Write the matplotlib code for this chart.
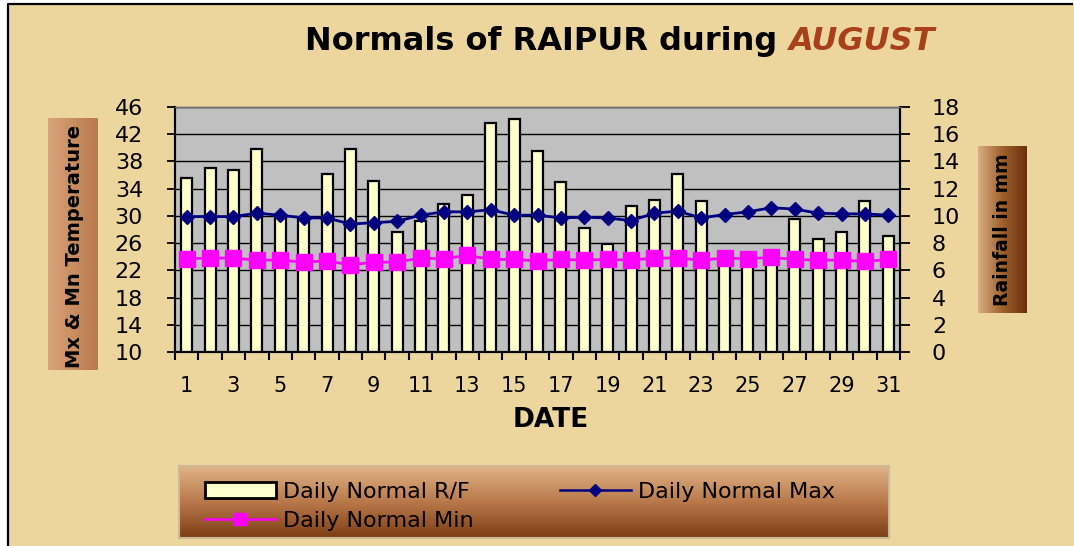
import numpy as np
import matplotlib
matplotlib.use("Agg")
import matplotlib.pyplot as plt
from matplotlib.lines import Line2D
from matplotlib.patches import Rectangle
from matplotlib.colors import LinearSegmentedColormap

# ---- data ---------------------------------------------------------------
dates = list(range(1, 32))
rainfall = [12.8, 13.5, 13.4, 14.9, 10.0, 9.8, 13.1, 14.9, 12.6, 8.8,
            9.6, 10.9, 11.5, 16.8, 17.1, 14.8, 12.5, 9.1, 7.9, 10.7,
            11.2, 13.1, 11.1, 6.9, 6.8, 7.0, 9.8, 8.3, 8.8, 11.1, 8.5]
max_temp = [29.9, 29.9, 29.9, 30.4, 30.1, 29.7, 29.7, 28.8, 29.0, 29.2,
            30.1, 30.6, 30.6, 30.9, 30.1, 30.1, 29.7, 29.8, 29.7, 29.3,
            30.4, 30.7, 29.7, 30.2, 30.6, 31.2, 31.0, 30.4, 30.3, 30.3, 30.1]
min_temp = [23.7, 23.8, 23.8, 23.5, 23.5, 23.2, 23.4, 22.8, 23.2, 23.2,
            23.8, 23.7, 24.2, 23.6, 23.6, 23.4, 23.6, 23.5, 23.6, 23.5,
            23.8, 23.8, 23.5, 23.8, 23.7, 23.9, 23.6, 23.5, 23.5, 23.3, 23.6]
temp_ticks = [10, 14, 18, 22, 26, 30, 34, 38, 42, 46]
rain_ticks = [0, 2, 4, 6, 8, 10, 12, 14, 16, 18]
date_ticks = list(range(1, 32, 2))
date_labels = [str(d) for d in date_ticks]

# ---- styling ------------------------------------------------------------
W, H = 1074, 546
PAPER = "#EDD69E"
FONT = "DejaVu Sans"
plt.rcParams["font.family"] = FONT

fig = plt.figure(figsize=(W / 100, H / 100), dpi=100)
fig.patch.set_facecolor("white")
fig.patch.set_edgecolor("none")


def fx(px):
    return px / W


def fy(py):
    return 1 - py / H


# page background with a black frame on the top/left edges
fig.add_artist(Rectangle((fx(8), 0), 1.05, fy(4), transform=fig.transFigure,
                         facecolor=PAPER, edgecolor="none", zorder=-20))
fig.add_artist(Line2D([fx(8), fx(8), 0.999], [0, fy(4), fy(4)],
                      transform=fig.transFigure, color="black",
                      linewidth=1.6, solid_capstyle="butt", zorder=-19))


def gradient_box(x0, y0, x1, y1, colors, horizontal=True, edge=None):
    box = fig.add_axes([fx(x0), fy(y1), fx(x1 - x0), (y1 - y0) / H], zorder=-5)
    cmap = LinearSegmentedColormap.from_list("g", colors)
    grad = np.linspace(0, 1, 256)
    img = grad[None, :] if horizontal else grad[:, None]
    box.imshow(img, aspect="auto", cmap=cmap, extent=[0, 1, 0, 1],
               origin="upper")
    box.set_xticks([])
    box.set_yticks([])
    for s in box.spines.values():
        if edge is None:
            s.set_visible(False)
        else:
            s.set_color(edge)
            s.set_linewidth(1.5)
    return box


# axis title boxes
gradient_box(48, 118, 98, 370, ["#D9A47C", "#C98E62", "#B97A4E"])
gradient_box(978, 146, 1027, 313, ["#D8AE84", "#A0602C", "#6A2E0C"])
fig.text(fx(74), fy(246), "Mx & Mn Temperature", rotation=90, ha="center",
         va="center", fontsize=14, fontweight="bold", color="black")
fig.text(fx(1003), fy(230), "Rainfall in mm", rotation=90, ha="center",
         va="center", fontsize=13.5, fontweight="bold", color="black")

# legend panel
gradient_box(179, 466, 889, 538, ["#E0B488", "#B8784A", "#7E3E14"],
             horizontal=False, edge="#CBB99A")

# ---- main plot ----------------------------------------------------------
ax_r = fig.add_axes([fx(175), fy(352), fx(725), 245 / H])
ax_r.set_facecolor("#C0C0C0")
ax_r.bar(dates, rainfall, width=0.47, color="#FFFFCC", edgecolor="black",
         linewidth=1.6, zorder=3)
ax_r.set_ylim(0, 18)
ax_r.set_yticks(rain_ticks)
ax_r.grid(axis="y", color="black", linewidth=1.0, zorder=1)
ax_r.set_axisbelow(True)

ax_t = ax_r.twinx()
# temperature scale on the left, rainfall scale on the right
ax_t.yaxis.tick_left()
ax_t.yaxis.set_label_position("left")
ax_r.yaxis.tick_right()
ax_r.yaxis.set_label_position("right")

ax_t.plot(dates, max_temp, color="#000080", linewidth=2, marker="D",
          markersize=7, zorder=5)
ax_t.plot(dates, min_temp, color="#FF00FF", linewidth=2, marker="s",
          markersize=11, zorder=4)
ax_t.set_ylim(10, 46)
ax_t.set_yticks(temp_ticks)
ax_t.patch.set_visible(False)

ax_r.set_xlim(0.5, 31.5)
ax_r.set_xticks(date_ticks)
ax_r.set_xticklabels(date_labels)
ax_r.set_xticks(np.arange(0.5, 32, 1), minor=True)
ax_r.tick_params(axis="x", which="major", length=0, pad=17, labelsize=15)
ax_r.tick_params(axis="x", which="minor", length=6, width=1.5, color="black")
ax_r.tick_params(axis="y", length=7, width=1.3, pad=16, labelsize=16)
ax_t.tick_params(axis="y", length=6, width=1.3, pad=17, labelsize=16)

for a in (ax_r, ax_t):
    a.spines["top"].set_color("#707070")
    a.spines["top"].set_linewidth(1.0)
    for s in ("left", "bottom", "right"):
        a.spines[s].set_color("black")
        a.spines[s].set_linewidth(1.5)

fig.text(fx(551), fy(420), "DATE", ha="center", va="center", fontsize=19,
         fontweight="bold")

# ---- title (two-tone, centred as a unit) ---------------------------------
TITLE_SIZE = 23
t1 = fig.text(0, fy(50), "Normals of RAIPUR during ", ha="left",
              va="baseline", fontsize=TITLE_SIZE, fontweight="bold",
              color="black")
t2 = fig.text(0, fy(50), "AUGUST", ha="left", va="baseline",
              fontsize=TITLE_SIZE, fontweight="bold", fontstyle="italic",
              color="#A8401A")
fig.canvas.draw()
w1 = t1.get_window_extent().width
w2 = t2.get_window_extent().width
start = 620 - (w1 + w2) / 2
t1.set_x(start / W)
t2.set_x((start + w1) / W)

# ---- legend -------------------------------------------------------------
h_bar = Rectangle((0, 0), 1, 1, facecolor="#FFFFCC", edgecolor="black",
                  linewidth=2)
h_max = Line2D([], [], color="#000080", linewidth=1.8, marker="D",
               markersize=6)
h_min = Line2D([], [], color="#FF00FF", linewidth=1.8, marker="s",
               markersize=9)
fig.legend([h_bar, h_min, h_max],
           ["Daily Normal R/F", "Daily Normal Min", "Daily Normal Max"],
           ncol=2, loc="upper left", bbox_to_anchor=(fx(187), fy(464)),
           frameon=False, handlelength=3.2, handleheight=0.7,
           handletextpad=0.3, columnspacing=3.9, labelspacing=0.4,
           borderpad=0.3, prop={"size": 16})

fig.savefig("out.png", dpi=100, facecolor=fig.get_facecolor())
